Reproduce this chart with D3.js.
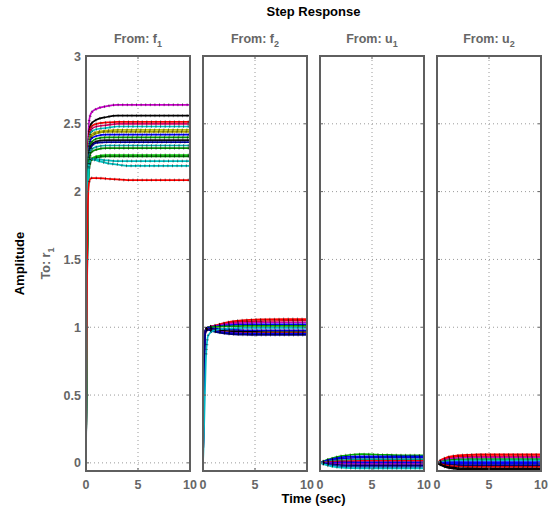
<!DOCTYPE html>
<html>
<head>
<meta charset="utf-8">
<script src="https://cdn.jsdelivr.net/npm/d3@7"></script>
<style>
body { margin: 0; background: #fff; }
text { font-family: "Liberation Sans", Arial, sans-serif; font-weight: bold; }
</style>
</head>
<body>
<div id="chart"></div>
<script>
var timePts = [0, 0.05, 0.1, 0.2, 0.3, 0.5, 1, 2, 3, 4, 6, 8, 10];
var inputNames = [["f", "1"], ["f", "2"], ["u", "1"], ["u", "2"]];
var yTicks = [0, 0.5, 1, 1.5, 2, 2.5, 3];
var xTicks = [0, 5, 10];

// From: f1
var f1Curves = [
    [0, 0.9, 1.7, 2.35, 2.52, 2.58, 2.61, 2.63, 2.64, 2.64, 2.64, 2.64, 2.64],
    [0, 0.85, 1.65, 2.28, 2.44, 2.5, 2.53, 2.55, 2.56, 2.56, 2.56, 2.56, 2.56],
    [0, 0.85, 1.6, 2.24, 2.42, 2.48, 2.5, 2.51, 2.515, 2.515, 2.515, 2.515, 2.515],
    [0, 0.8, 1.55, 2.2, 2.4, 2.46, 2.48, 2.49, 2.5, 2.5, 2.5, 2.5, 2.5],
    [0, 0.8, 1.55, 2.2, 2.38, 2.44, 2.46, 2.47, 2.48, 2.48, 2.48, 2.48, 2.48],
    [0, 0.8, 1.5, 2.15, 2.35, 2.42, 2.44, 2.45, 2.455, 2.455, 2.455, 2.455, 2.455],
    [0, 0.8, 1.5, 2.15, 2.33, 2.4, 2.43, 2.44, 2.44, 2.44, 2.44, 2.44, 2.44],
    [0, 0.78, 1.5, 2.13, 2.33, 2.39, 2.41, 2.42, 2.42, 2.42, 2.42, 2.42, 2.42],
    [0, 0.78, 1.45, 2.1, 2.3, 2.36, 2.39, 2.4, 2.4, 2.4, 2.4, 2.4, 2.4],
    [0, 0.75, 1.45, 2.1, 2.28, 2.34, 2.37, 2.38, 2.38, 2.38, 2.38, 2.38, 2.38],
    [0, 0.6, 1.3, 2.0, 2.25, 2.33, 2.36, 2.365, 2.365, 2.365, 2.365, 2.365, 2.365],
    [0, 0.75, 1.45, 2.07, 2.25, 2.31, 2.33, 2.34, 2.34, 2.34, 2.34, 2.34, 2.34],
    [0, 0.75, 1.4, 2.05, 2.23, 2.29, 2.31, 2.32, 2.32, 2.32, 2.32, 2.32, 2.32],
    [0, 0.7, 1.4, 2.0, 2.18, 2.24, 2.26, 2.27, 2.27, 2.27, 2.27, 2.27, 2.27],
    [0, 0.7, 1.35, 1.98, 2.17, 2.23, 2.25, 2.26, 2.26, 2.26, 2.26, 2.26, 2.26],
    [0, 0.75, 1.45, 2.05, 2.2, 2.24, 2.24, 2.23, 2.225, 2.225, 2.225, 2.225, 2.225],
    [0, 0.75, 1.45, 2.05, 2.2, 2.24, 2.23, 2.21, 2.2, 2.19, 2.19, 2.19, 2.19],
    [0, 0.7, 1.4, 1.95, 2.07, 2.1, 2.1, 2.095, 2.09, 2.085, 2.085, 2.085, 2.085]
];
var f1Colors = ["#c800c8", "#000000", "#ff0000", "#e0006a", "#00c8c8", "#bfbf00", "#a8a800",
    "#0000ff", "#00a000", "#101010", "#0000a0", "#00b0b0", "#009000", "#00c800", "#008000",
    "#00bfbf", "#00c0c0", "#ff0000"];

// From: f2
var f2Curves = [
    [0, 0.35, 0.7, 0.95, 0.99, 1.0, 1.01, 1.03, 1.045, 1.053, 1.058, 1.06, 1.06],
    [0, 0.35, 0.7, 0.95, 0.99, 1.0, 1.008, 1.025, 1.036, 1.042, 1.046, 1.048, 1.048],
    [0, 0.35, 0.7, 0.95, 0.99, 1.0, 1.006, 1.02, 1.028, 1.032, 1.035, 1.035, 1.035],
    [0, 0.35, 0.7, 0.95, 0.99, 1.0, 1.004, 1.012, 1.018, 1.02, 1.022, 1.022, 1.022],
    [0, 0.35, 0.7, 0.95, 0.99, 1.0, 1.002, 1.006, 1.008, 1.01, 1.01, 1.01, 1.01],
    [0, 0.35, 0.7, 0.95, 0.99, 0.995, 0.99, 0.984, 0.98, 0.978, 0.978, 0.978, 0.978],
    [0, 0.35, 0.7, 0.95, 0.985, 0.99, 0.983, 0.974, 0.969, 0.966, 0.965, 0.965, 0.965],
    [0, 0.35, 0.7, 0.94, 0.98, 0.985, 0.976, 0.965, 0.959, 0.956, 0.955, 0.955, 0.955],
    [0, 0.35, 0.7, 0.94, 0.98, 0.985, 0.975, 0.962, 0.956, 0.953, 0.952, 0.952, 0.952],
    [0, 0.35, 0.7, 0.94, 0.975, 0.98, 0.97, 0.955, 0.948, 0.945, 0.943, 0.943, 0.943],
    [0, 0.1, 0.25, 0.55, 0.8, 0.94, 0.975, 0.988, 0.992, 0.995, 0.995, 0.995, 0.995]
];
var f2Colors = ["#ff0000", "#e00020", "#c800c8", "#0000ff", "#00a000", "#0000e0",
    "#000000", "#ff0000", "#0000ff", "#000080", "#00b8c8"];

// From: u1
var u1Curves = [
    [0, 0.001, 0.003, 0.007, 0.011, 0.018, 0.03, 0.05, 0.06, 0.064, 0.06, 0.056, 0.055],
    [0, 0.001, 0.002, 0.005, 0.008, 0.014, 0.025, 0.04, 0.046, 0.048, 0.048, 0.048, 0.048],
    [0, 0.001, 0.002, 0.004, 0.006, 0.011, 0.02, 0.031, 0.036, 0.038, 0.038, 0.038, 0.038],
    [0, 0.0, 0.001, 0.003, 0.004, 0.007, 0.013, 0.02, 0.023, 0.025, 0.025, 0.025, 0.025],
    [0, 0.0, 0.001, 0.001, 0.002, 0.004, 0.007, 0.011, 0.013, 0.014, 0.014, 0.014, 0.014],
    [0, 0.0, 0.0, 0.001, 0.001, 0.001, 0.002, 0.003, 0.004, 0.004, 0.004, 0.004, 0.004],
    [0, 0.0, 0.0, -0.001, -0.001, -0.002, -0.004, -0.006, -0.007, -0.007, -0.007, -0.007, -0.007],
    [0, 0.0, -0.001, -0.003, -0.004, -0.006, -0.011, -0.016, -0.018, -0.018, -0.018, -0.018, -0.018],
    [0, 0.0, -0.001, -0.004, -0.006, -0.01, -0.017, -0.025, -0.028, -0.03, -0.03, -0.03, -0.03],
    [0, -0.001, -0.002, -0.005, -0.008, -0.014, -0.024, -0.035, -0.039, -0.04, -0.04, -0.04, -0.04]
];
var u1Colors = ["#00b000", "#0000ff", "#0000e0", "#00a080", "#ff0000", "#0000ff",
    "#a000c0", "#000080", "#2040c0", "#00c8c8"];

// From: u2
var u2Curves = [
    [0, 0.002, 0.005, 0.01, 0.016, 0.027, 0.042, 0.055, 0.06, 0.062, 0.062, 0.062, 0.062],
    [0, 0.001, 0.004, 0.008, 0.012, 0.021, 0.034, 0.045, 0.049, 0.05, 0.05, 0.05, 0.05],
    [0, 0.001, 0.003, 0.006, 0.009, 0.016, 0.027, 0.036, 0.039, 0.04, 0.04, 0.04, 0.04],
    [0, 0.001, 0.002, 0.004, 0.006, 0.011, 0.019, 0.025, 0.027, 0.028, 0.028, 0.028, 0.028],
    [0, 0.0, 0.001, 0.002, 0.004, 0.007, 0.012, 0.016, 0.018, 0.018, 0.018, 0.018, 0.018],
    [0, 0.0, 0.0, 0.001, 0.001, 0.002, 0.004, 0.005, 0.006, 0.006, 0.006, 0.006, 0.006],
    [0, 0.0, 0.0, -0.001, -0.001, -0.003, -0.005, -0.007, -0.008, -0.008, -0.008, -0.008, -0.008],
    [0, 0.0, -0.001, -0.003, -0.004, -0.007, -0.012, -0.016, -0.018, -0.018, -0.018, -0.018, -0.018],
    [0, -0.001, -0.002, -0.005, -0.007, -0.012, -0.02, -0.027, -0.03, -0.03, -0.03, -0.03, -0.03],
    [0, -0.001, -0.003, -0.007, -0.011, -0.018, -0.03, -0.038, -0.041, -0.042, -0.042, -0.042, -0.042],
    [0, -0.002, -0.004, -0.009, -0.014, -0.022, -0.035, -0.046, -0.049, -0.05, -0.05, -0.05, -0.05]
];
var u2Colors = ["#ff0000", "#ff0000", "#c800c8", "#00a000", "#00c0c0", "#0000ff",
    "#0000ff", "#000080", "#e00000", "#000000", "#000000"];

function drawChart() {
    var w = 550;
    var h = 511;
    var panelLeft = [86, 203, 320, 437];
    var panelW = 104;
    var top = 56;
    var bottom = 471;
    var frameColor = "#5f5f5f";
    var labelColor = "#666666";
    var modelStart = 4; // black tick overlay only after the initial rise

    var panels = [
        { curves: f1Curves, colors: f1Colors },
        { curves: f2Curves, colors: f2Colors },
        { curves: u1Curves, colors: u1Colors },
        { curves: u2Curves, colors: u2Colors }
    ];

    var svg = d3.select("#chart")
        .append("svg")
        .attr("width", w)
        .attr("height", h);

    var yScale = d3.scaleLinear()
        .domain([-0.06, 3])
        .range([bottom, top]);

    svg.append("text")
        .attr("x", 313.5)
        .attr("y", 16)
        .attr("text-anchor", "middle")
        .attr("font-size", 13)
        .attr("fill", "#000")
        .text("Step Response");

    svg.append("text")
        .attr("transform", "translate(24," + ((top + bottom) / 2) + ") rotate(-90)")
        .attr("text-anchor", "middle")
        .attr("font-size", 13)
        .attr("fill", "#000")
        .text("Amplitude");

    var toLabel = svg.append("text")
        .attr("transform", "translate(50," + ((top + bottom) / 2) + ") rotate(-90)")
        .attr("text-anchor", "middle")
        .attr("font-size", 12.5)
        .attr("fill", labelColor);
    toLabel.append("tspan").text("To: r");
    toLabel.append("tspan").attr("font-size", 9).attr("dy", 4).text("1");

    svg.append("text")
        .attr("x", 313.5)
        .attr("y", 503)
        .attr("text-anchor", "middle")
        .attr("font-size", 13)
        .attr("fill", "#000")
        .text("Time (sec)");

    // y tick labels on first panel only
    svg.selectAll(".ylab")
        .data(yTicks)
        .enter()
        .append("text")
        .attr("class", "ylab")
        .attr("x", panelLeft[0] - 5)
        .attr("y", function(d) { return yScale(d) + 4.5; })
        .attr("text-anchor", "end")
        .attr("font-size", 12.5)
        .attr("fill", labelColor)
        .text(function(d) { return d; });

    panels.forEach(function(p, pi) {
        var x0 = panelLeft[pi];
        var xScale = d3.scaleLinear()
            .domain([0, 10])
            .range([x0, x0 + panelW]);

        var title = svg.append("text")
            .attr("x", x0 + panelW / 2)
            .attr("y", 43)
            .attr("text-anchor", "middle")
            .attr("font-size", 12.5)
            .attr("fill", labelColor);
        title.append("tspan").text("From: " + inputNames[pi][0]);
        title.append("tspan").attr("font-size", 9).attr("dy", 4).text(inputNames[pi][1]);

        svg.append("clipPath")
            .attr("id", "clip" + pi)
            .append("rect")
            .attr("x", x0)
            .attr("y", top)
            .attr("width", panelW)
            .attr("height", bottom - top);

        var g = svg.append("g");

        // grid
        g.selectAll(".hgrid")
            .data(yTicks)
            .enter()
            .append("line")
            .attr("x1", x0)
            .attr("x2", x0 + panelW)
            .attr("y1", function(d) { return yScale(d); })
            .attr("y2", function(d) { return yScale(d); })
            .attr("stroke", "#9a9a9a")
            .attr("stroke-width", 1)
            .attr("stroke-dasharray", "1,3");

        g.append("line")
            .attr("x1", xScale(5))
            .attr("x2", xScale(5))
            .attr("y1", top)
            .attr("y2", bottom)
            .attr("stroke", "#9a9a9a")
            .attr("stroke-width", 1)
            .attr("stroke-dasharray", "1,3");

        var line = d3.line()
            .x(function(d, i) { return xScale(timePts[i]); })
            .y(function(d) { return yScale(d); })
            .curve(d3.curveMonotoneX);

        var modelLine = d3.line()
            .x(function(d, i) { return xScale(timePts[i + modelStart]); })
            .y(function(d) { return yScale(d); })
            .curve(d3.curveMonotoneX);

        var curves = g.append("g").attr("clip-path", "url(#clip" + pi + ")");

        curves.selectAll(".resp")
            .data(p.curves)
            .enter()
            .append("path")
            .attr("d", line)
            .attr("fill", "none")
            .attr("stroke", function(d, i) { return p.colors[i]; })
            .attr("stroke-width", 1.7);

        // black model lines drawn as short tick marks
        curves.selectAll(".model")
            .data(p.curves)
            .enter()
            .append("path")
            .attr("d", function(d) { return modelLine(d.slice(modelStart)); })
            .attr("fill", "none")
            .attr("stroke", "#000")
            .attr("stroke-opacity", 0.45)
            .attr("stroke-width", 3)
            .attr("stroke-dasharray", "1,3.6");

        // ticks inside the frame
        yTicks.forEach(function(t) {
            g.append("line").attr("x1", x0).attr("x2", x0 + 3)
                .attr("y1", yScale(t)).attr("y2", yScale(t))
                .attr("stroke", frameColor).attr("stroke-width", 1);
            g.append("line").attr("x1", x0 + panelW - 3).attr("x2", x0 + panelW)
                .attr("y1", yScale(t)).attr("y2", yScale(t))
                .attr("stroke", frameColor).attr("stroke-width", 1);
        });
        xTicks.forEach(function(t) {
            g.append("line").attr("x1", xScale(t)).attr("x2", xScale(t))
                .attr("y1", bottom).attr("y2", bottom - 3)
                .attr("stroke", frameColor).attr("stroke-width", 1);
            g.append("line").attr("x1", xScale(t)).attr("x2", xScale(t))
                .attr("y1", top).attr("y2", top + 3)
                .attr("stroke", frameColor).attr("stroke-width", 1);
        });

        g.append("rect")
            .attr("x", x0)
            .attr("y", top)
            .attr("width", panelW)
            .attr("height", bottom - top)
            .attr("fill", "none")
            .attr("stroke", frameColor)
            .attr("stroke-width", 2);

        svg.selectAll(".xlab" + pi)
            .data(xTicks)
            .enter()
            .append("text")
            .attr("x", function(d) { return xScale(d); })
            .attr("y", 489)
            .attr("text-anchor", "middle")
            .attr("font-size", 12.5)
            .attr("fill", labelColor)
            .text(function(d) { return d; });
    });
}

window.onload = drawChart;
</script>
</body>
</html>
